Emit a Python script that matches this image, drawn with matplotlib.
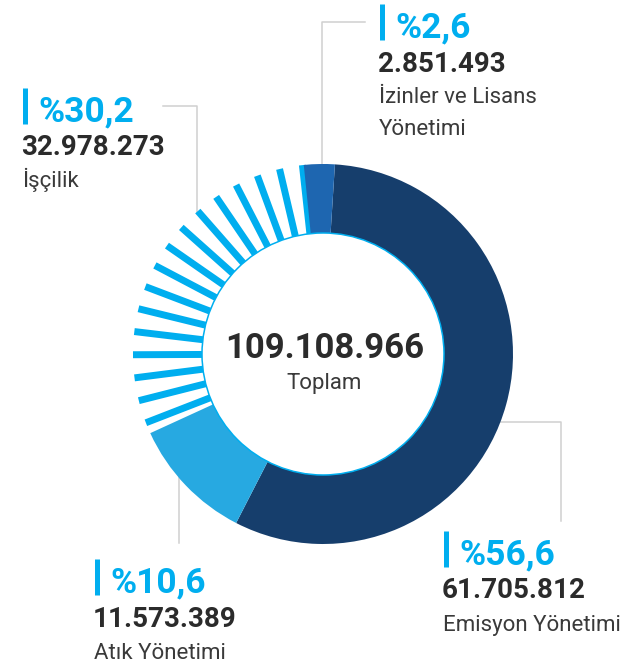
import matplotlib
matplotlib.use("Agg")
import matplotlib.pyplot as plt
from matplotlib.patches import Circle
import numpy as np

plt.rcParams['font.family'] = ['Roboto', 'DejaVu Sans']

# data
categories = ['Emisyon Yönetimi', 'Atık Yönetimi', 'İşçilik', 'İzinler ve Lisans\nYönetimi']
amounts = [61705812, 11573389, 32978273, 2851493]
percents = ['%56,6', '%10,6', '%30,2', '%2,6']
amount_labels = ['61.705.812', '11.573.389', '32.978.273', '2.851.493']
total_label = '109.108.966'

colors = ['#163e6c', '#27a9e1', 'none', '#1e66b0']
stripe_color = '#00aeef'
cyan = '#00aeef'
grey = '#d0d0d0'
dark = '#2b2b2b'
text_col = '#3a3a3a'

W, H = 626, 669
cx, cy = 323, H - 354
r_out, r_in = 190, 121


def Y(y):
    return H - y


fig = plt.figure(figsize=(W / 100, H / 100), dpi=100)
ax = fig.add_axes([0, 0, 1, 1])

wedges, _ = ax.pie(amounts, colors=colors, startangle=86.4, counterclock=False,
                   radius=r_out, center=(cx, cy),
                   wedgeprops=dict(width=r_out - r_in, linewidth=0))
ax.set_xlim(0, W)
ax.set_ylim(0, H)
ax.set_aspect('equal')
ax.axis('off')
wedges[3].set_zorder(3)

# stripes for İşçilik
w = wedges[2]
n_stripes = 16
angs = np.radians(w.theta2 - 3.4 - 7.0 * np.arange(n_stripes))
for a in angs:
    ax.plot([cx + r_in * np.cos(a), cx + r_out * np.cos(a)],
            [cy + r_in * np.sin(a), cy + r_out * np.sin(a)],
            color=stripe_color, lw=5.0, solid_capstyle='butt', zorder=2)

ax.add_patch(Circle((cx, cy), r_in, fill=False, edgecolor=cyan, lw=1.1, zorder=4))

# leader lines
lk = dict(color=grey, lw=1.1, zorder=0.5)
ax.plot([163, 197, 197], [Y(106), Y(106), Y(212)], **lk)
ax.plot([365, 322, 322], [Y(22), Y(22), Y(164)], **lk)
ax.plot([498, 561, 561], [Y(422), Y(422), Y(521)], **lk)
ax.plot([179, 179], [Y(477), Y(543)], **lk)

# labels: (x, pct baseline, amount baseline, first label baseline)
label_pos = {
    2: (22, 121, 155, 187),
    3: (379, 37, 72, 103),
    1: (94, 592, 627, 659),
    0: (443, 564, 598, 631),
}
for i, (x, yp, ya, yl) in label_pos.items():
    ax.plot([x + 2.5, x + 2.5], [Y(yp + 3), Y(yp - 33)], color=cyan, lw=3.6,
            solid_capstyle='butt')
    ax.text(x + 16, Y(yp), percents[i], color=cyan, fontsize=25.5, fontweight='bold',
            va='baseline', ha='left')
    ax.text(x - 1, Y(ya), amount_labels[i], color=dark, fontsize=20, fontweight='bold',
            va='baseline', ha='left')
    for j, line in enumerate(categories[i].split('\n')):
        ax.text(x, Y(yl + 32 * j), line, color=text_col, fontsize=16,
                va='baseline', ha='left')

ax.text(cx + 2, Y(358), total_label, color=dark, fontsize=25, fontweight='bold',
        va='baseline', ha='center')
ax.text(cx + 1, Y(389), 'Toplam', color=text_col, fontsize=16,
        va='baseline', ha='center')

fig.savefig('out.png', dpi=100)
